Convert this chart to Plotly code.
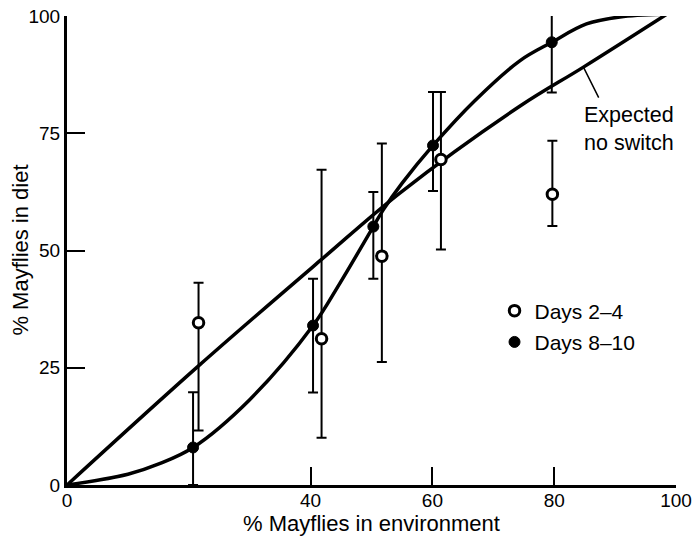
import plotly.graph_objects as go

# Days 2-4 (open circles)
x_early = [21.6, 41.8, 51.7, 61.4, 79.7]
y_early = [34.6, 31.2, 48.8, 69.4, 62.0]
early_hi = [43.1, 67.2, 72.8, 83.8, 73.4]
early_lo = [11.6, 10.1, 26.2, 50.2, 55.2]

# Days 8-10 (filled circles)
x_late = [20.7, 40.4, 50.3, 60.1, 79.6]
y_late = [8.0, 34.0, 55.1, 72.4, 94.4]
late_hi = [19.8, 44.0, 62.5, 83.8, 100.6]
late_lo = [0.0, 19.7, 44.0, 62.7, 83.7]

# Fitted sigmoid (switching) curve
fit_x = [0, 10, 15.3, 20.7, 30, 40.4, 44.8, 50.3, 51.9, 55, 60.1, 67, 74.4, 79.6, 85.3, 90.8, 98.5]
fit_y = [0, 2.3, 4.6, 8.0, 18.2, 34.0, 43.0, 55.1, 58.6, 64.3, 72.4, 82.0, 90.5, 94.4, 98.3, 99.8, 100.4]

# Expected (no switch) curve
exp_x = [0, 21.6, 41.8, 54.7, 74.4, 84.8, 98.5]
exp_y = [0, 25.4, 48.1, 62.3, 80.8, 89.1, 100.4]

x_ticks = [0, 40, 60, 80, 100]
y_ticks = [0, 25, 50, 75, 100]

FONT = "Liberation Sans, Arial, sans-serif"

fig = go.Figure()

fig.add_trace(go.Scatter(x=exp_x, y=exp_y, mode="lines",
                         line=dict(color="black", width=3.5, shape="spline", smoothing=1),
                         showlegend=False, hoverinfo="skip"))
fig.add_trace(go.Scatter(x=fit_x, y=fit_y, mode="lines",
                         line=dict(color="black", width=3.5, shape="spline", smoothing=1),
                         showlegend=False, hoverinfo="skip"))

fig.add_trace(go.Scatter(
    x=x_early, y=y_early, mode="markers", name="Days 2\u20134",
    legendgroup="a",
    marker=dict(symbol="circle", size=10.5, color="white", line=dict(color="black", width=3)),
    error_y=dict(type="data", symmetric=False,
                 array=[h - y for h, y in zip(early_hi, y_early)],
                 arrayminus=[y - l for l, y in zip(early_lo, y_early)],
                 color="black", thickness=2, width=5),
    cliponaxis=False))

fig.add_trace(go.Scatter(
    x=x_late, y=y_late, mode="markers", name="Days 8\u201310",
    legendgroup="b",
    marker=dict(symbol="circle", size=11, color="black", line=dict(color="black", width=1)),
    error_y=dict(type="data", symmetric=False,
                 array=[h - y for h, y in zip(late_hi, y_late)],
                 arrayminus=[y - l for l, y in zip(late_lo, y_late)],
                 color="black", thickness=2, width=5),
    cliponaxis=False))

fig.add_annotation(x=84.8, y=89.1, xref="x", yref="y", text="", showarrow=True,
                   arrowhead=0, arrowwidth=1.5, arrowcolor="black", ax=16, ay=32)
fig.add_annotation(x=92.3, y=75.9, xref="x", yref="y", text="Expected<br>no switch", showarrow=False,
                   font=dict(family=FONT, size=21.5, color="black"), align="center",
                   xanchor="center", yanchor="middle")
# y-axis title
fig.add_annotation(x=-0.077, y=0.5, xref="paper", yref="paper", text="% Mayflies in diet",
                   showarrow=False, textangle=-90, xanchor="center", yanchor="middle",
                   font=dict(family=FONT, size=22, color="black"))

fig.update_layout(
    width=695, height=538,
    margin=dict(l=67, r=19, t=16, b=53),
    paper_bgcolor="white", plot_bgcolor="white",
    font=dict(family=FONT, size=19, color="black"),
    legend=dict(x=0.702, y=0.338, xanchor="left", yanchor="middle",
                font=dict(family=FONT, size=21, color="black"),
                bgcolor="rgba(0,0,0,0)", tracegroupgap=1),
    showlegend=True,
)

fig.update_xaxes(range=[0, 100], tickvals=x_ticks, ticktext=[str(v) for v in x_ticks],
                 ticks="inside", ticklen=18, tickwidth=2, tickcolor="black",
                 showline=True, linewidth=3, linecolor="black",
                 showgrid=False, zeroline=False, automargin=False,
                 ticklabeloverflow="allow",
                 tickfont=dict(size=19), ticklabelstandoff=-4,
                 title=dict(text="% Mayflies in environment", font=dict(size=22), standoff=2))
fig.update_yaxes(range=[0, 100], tickvals=y_ticks, ticktext=[str(v) for v in y_ticks],
                 ticks="inside", ticklen=18, tickwidth=2, tickcolor="black",
                 showline=True, linewidth=3, linecolor="black",
                 showgrid=False, zeroline=False, automargin=False,
                 ticklabeloverflow="allow",
                 tickfont=dict(size=19))

fig.write_html("out.html", config={"displayModeBar": False},
               post_script="document.body.style.margin='0';document.body.style.overflow='hidden';")
